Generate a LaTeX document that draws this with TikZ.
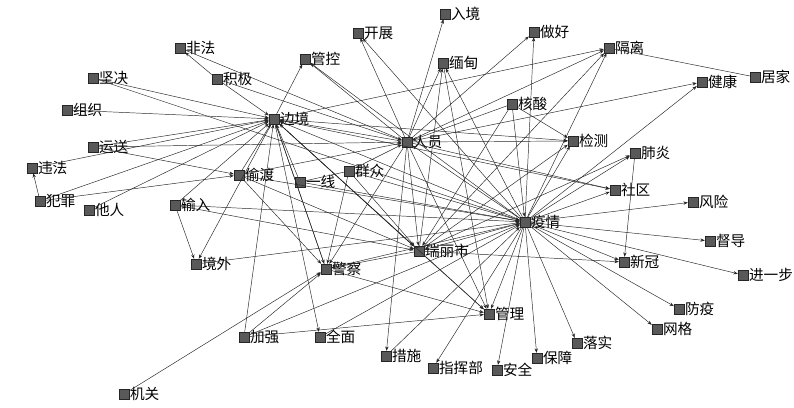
\documentclass[tikz,border=0pt]{standalone}
\usepackage{fontspec}
\newfontfamily\cjk{Noto Sans CJK SC}
\usetikzlibrary{arrows.meta}

\begin{document}
\begin{tikzpicture}[
    x=0.03cm, y=-0.03cm,
    term/.style={draw=black!85, fill=black!65, minimum size=0.3cm, inner sep=0pt, label distance=1.5pt},
    every label/.style={font=\cjk\fontsize{12.5}{13}\selectfont, inner sep=0.5pt},
    arrow/.style={-{Stealth[length=1.3mm, width=1mm]}, draw=black!85, line width=0.4pt},
    link/.style={draw=black!85, line width=0.4pt}
  ]
    \useasboundingbox (0,0) rectangle (794,407);
    % hubs
    \node[term, label=right:边境] (bianjing) at (274,119) {};
    \node[term, label=right:人员] (renyuan) at (407,142) {};
    \node[term, label=right:疫情] (yiqing) at (525,222) {};
    \node[term, label=right:瑞丽市] (ruili) at (419,251) {};
    \node[term, label=right:警察] (jingcha) at (326,269) {};
    \node[term, label=right:管理] (guanli) at (489,314) {};
    % top
    \node[term, label=right:入境] (rujing) at (445,14) {};
    \node[term, label=right:开展] (kaizhan) at (358,33) {};
    \node[term, label=right:做好] (zuohao) at (534,32) {};
    \node[term, label=right:非法] (feifa) at (180,48) {};
    \node[term, label=right:管控] (guankong) at (305,59) {};
    \node[term, label=right:隔离] (geli) at (609,48) {};
    \node[term, label=right:缅甸] (miandian) at (443,63) {};
    \node[term, label=right:坚决] (jianjue) at (93,78) {};
    \node[term, label=right:积极] (jiji) at (217,79) {};
    \node[term, label=right:居家] (jujia) at (755,77) {};
    \node[term, label=right:健康] (jiankang) at (702,82) {};
    \node[term, label=right:核酸] (hesuan) at (512,104) {};
    % left
    \node[term, label=right:组织] (zuzhi) at (67,110) {};
    \node[term, label=right:运送] (yunsong) at (93,147) {};
    \node[term, label=right:违法] (weifa) at (32,168) {};
    \node[term, label=right:偷渡] (toudu) at (239,175) {};
    \node[term, label=right:犯罪] (fanzui) at (40,201) {};
    \node[term, label=right:他人] (taren) at (89,210) {};
    \node[term, label=right:输入] (shuru) at (175,205) {};
    \node[term, label=right:境外] (jingwai) at (196,264) {};
    \node[term, label=right:一线] (yixian) at (300,182) {};
    \node[term, label=right:群众] (qunzhong) at (349,171) {};
    % right
    \node[term, label=right:检测] (jiance) at (573,141) {};
    \node[term, label=right:肺炎] (feiyan) at (635,153) {};
    \node[term, label=right:社区] (shequ) at (615,190) {};
    \node[term, label=right:风险] (fengxian) at (693,202) {};
    \node[term, label=right:督导] (dudao) at (710,241) {};
    \node[term, label=right:新冠] (xinguan) at (624,262) {};
    \node[term, label=right:进一步] (jinyibu) at (743,275) {};
    \node[term, label=right:防疫] (fangyi) at (679,309) {};
    \node[term, label=right:网格] (wangge) at (657,329) {};
    % bottom
    \node[term, label=right:加强] (jiaqiang) at (244,337) {};
    \node[term, label=right:全面] (quanmian) at (320,337) {};
    \node[term, label=right:措施] (cuoshi) at (386,356) {};
    \node[term, label=right:指挥部] (zhihuibu) at (433,368) {};
    \node[term, label=right:安全] (anquan) at (497,370) {};
    \node[term, label=right:保障] (baozhang) at (537,358) {};
    \node[term, label=right:落实] (luoshi) at (577,343) {};
    \node[term, label=right:机关] (jiguan) at (124,394) {};
    % edges into 边境
    \draw[arrow] (jianjue) -- (bianjing);
    \draw[arrow] (zuzhi) -- (bianjing);
    \draw[arrow] (jiji) -- (bianjing);
    \draw[arrow] (yunsong) -- (bianjing);
    \draw[arrow] (weifa) -- (bianjing);
    \draw[arrow] (fanzui) -- (bianjing);
    \draw[arrow] (taren) -- (bianjing);
    \draw[arrow] (toudu) -- (bianjing);
    \draw[arrow] (shuru) -- (bianjing);
    \draw[arrow] (jiaqiang) -- (bianjing);
    \draw[arrow] (yixian) -- (bianjing);
    \draw[arrow] (jingcha) -- (bianjing);
    \draw[arrow] (ruili) -- (bianjing);
    \draw[arrow] (yiqing) -- (bianjing);
    \draw[arrow] (renyuan) -- (bianjing);
    % edges out of 边境
    \draw[arrow] (bianjing) -- (guankong);
    \draw[arrow] (bianjing) -- (jingcha);
    \draw[arrow] (bianjing) -- (quanmian);
    \draw[arrow] (bianjing) -- (jingwai);
    \draw[arrow] (bianjing) -- (guanli);
    \draw[arrow] (bianjing) -- (ruili);
    \draw[arrow] (bianjing) -- (jiance);
    \draw[arrow] (bianjing) -- (shequ);
    \draw[arrow] (bianjing) -- (geli);
    % edges of 人员
    \draw[arrow] (renyuan) -- (rujing);
    \draw[arrow] (renyuan) -- (kaizhan);
    \draw[arrow] (renyuan) -- (miandian);
    \draw[arrow] (renyuan) -- (zuohao);
    \draw[arrow] (renyuan) -- (geli);
    \draw[arrow] (renyuan) -- (jiankang);
    \draw[arrow] (renyuan) -- (jiance);
    \draw[arrow] (renyuan) -- (shequ);
    \draw[arrow] (renyuan) -- (guankong);
    \draw[arrow] (renyuan) -- (cuoshi);
    \draw[arrow] (renyuan) -- (guanli);
    \draw[arrow] (renyuan) -- (ruili);
    \draw[arrow] (renyuan) -- (jingcha);
    \draw[arrow] (feifa) -- (renyuan);
    \draw[arrow] (jiji) -- (renyuan);
    \draw[arrow] (yunsong) -- (renyuan);
    \draw[arrow] (toudu) -- (renyuan);
    \draw[arrow] (qunzhong) -- (renyuan);
    \draw[arrow] (hesuan) -- (renyuan);
    \draw[arrow] (yiqing) -- (renyuan);
    % edges of 疫情
    \draw[arrow] (yiqing) -- (fengxian);
    \draw[arrow] (yiqing) -- (dudao);
    \draw[arrow] (yiqing) -- (jinyibu);
    \draw[arrow] (yiqing) -- (fangyi);
    \draw[arrow] (yiqing) -- (wangge);
    \draw[arrow] (yiqing) -- (luoshi);
    \draw[arrow] (yiqing) -- (baozhang);
    \draw[arrow] (yiqing) -- (anquan);
    \draw[arrow] (yiqing) -- (zhihuibu);
    \draw[arrow] (yiqing) -- (guanli);
    \draw[arrow] (yiqing) -- (xinguan);
    \draw[arrow] (yiqing) -- (shequ);
    \draw[arrow] (yiqing) -- (feiyan);
    \draw[arrow] (yiqing) -- (jiance);
    \draw[arrow] (yiqing) -- (jiankang);
    \draw[arrow] (yiqing) -- (geli);
    \draw[arrow] (yiqing) -- (zuohao);
    \draw[arrow] (yiqing) -- (miandian);
    \draw[arrow] (yiqing) -- (kaizhan);
    \draw[arrow] (yiqing) -- (guankong);
    \draw[arrow] (yiqing) -- (ruili);
    \draw[arrow] (yiqing) -- (jingcha);
    \draw[arrow] (jingwai) -- (yiqing);
    \draw[arrow] (shuru) -- (yiqing);
    \draw[arrow] (toudu) -- (yiqing);
    \draw[arrow] (yixian) -- (yiqing);
    \draw[arrow] (qunzhong) -- (yiqing);
    \draw[arrow] (jiaqiang) -- (yiqing);
    \draw[arrow] (quanmian) -- (yiqing);
    \draw[arrow] (hesuan) -- (yiqing);
    \draw[arrow] (jianjue) -- (yiqing);
    \draw[arrow] (cuoshi) -- (yiqing);
    % edges of 瑞丽市
    \draw[arrow] (ruili) -- (xinguan);
    \draw[arrow] (ruili) -- (guanli);
    \draw[arrow] (ruili) -- (jingcha);
    \draw[arrow] (ruili) -- (miandian);
    \draw[arrow] (ruili) -- (feiyan);
    \draw[arrow] (ruili) -- (jiance);
    \draw[arrow] (ruili) -- (geli);
    \draw[arrow] (shuru) -- (ruili);
    \draw[arrow] (toudu) -- (ruili);
    \draw[arrow] (qunzhong) -- (ruili);
    \draw[arrow] (hesuan) -- (ruili);
    % other edges
    \draw[arrow] (jiji) -- (feifa);
    \draw[arrow] (fanzui) -- (weifa);
    \draw[arrow] (yunsong) -- (toudu);
    \draw[arrow] (fanzui) -- (toudu);
    \draw[arrow] (shuru) -- (jingwai);
    \draw[link] (yixian) -- (qunzhong);
    \draw[arrow] (hesuan) -- (jiance);
    \draw[arrow] (feiyan) -- (xinguan);
    \draw[link] (geli) -- (jujia);
    \draw[arrow] (jingcha) -- (guanli);
    \draw[arrow] (jiaqiang) -- (guanli);
    \draw[arrow] (jiaqiang) -- (jingcha);
    \draw[arrow] (jiguan) -- (jingcha);
    \draw[arrow] (miandian) -- (guanli);
    \draw[arrow] (qunzhong) -- (jingcha);
    \draw[arrow] (toudu) -- (jingcha);
  \end{tikzpicture}
\end{document}
